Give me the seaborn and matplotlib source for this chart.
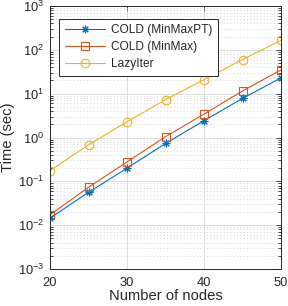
import numpy as np
import pandas as pd
import matplotlib
matplotlib.use("Agg")
import matplotlib.pyplot as plt
import seaborn as sns
from matplotlib.ticker import LogLocator, NullFormatter, FixedLocator

nodes = [20, 25, 30, 35, 40, 45, 50]
minmaxpt = [0.0145, 0.056, 0.20, 0.73, 2.41, 7.8, 22.9]
minmax = [0.0172, 0.073, 0.277, 1.04, 3.42, 11.5, 34.8]
lazyiter = [0.175, 0.68, 2.28, 7.3, 20.9, 60.0, 164.0]
series_names = ["COLD (MinMaxPT)", "COLD (MinMax)", "LazyIter"]
x_ticks = [20, 30, 40, 50]
x_label = "Number of nodes"
y_label = "Time (sec)"

colors = ["#0072BD", "#D95319", "#EDB120"]
markers = [(8, 2, 0), "s", "o"]
msizes = [5.5, 5.2, 6.2]

sns.set_style("white")
plt.rcParams["font.family"] = ["Liberation Sans", "DejaVu Sans"]
plt.rcParams["mathtext.default"] = "regular"

fig = plt.figure(figsize=(2.88, 3.06), dpi=100)
ax = fig.add_axes([50 / 288, (306 - 269) / 306, (281 - 50) / 288, (269 - 6) / 306])

for name, vals, c, m, ms in zip(series_names, [minmaxpt, minmax, lazyiter], colors, markers, msizes):
    df = pd.DataFrame({"x": nodes, "y": vals})
    sns.lineplot(data=df, x="x", y="y", ax=ax, color=c, marker=m, markersize=ms,
                 markerfacecolor="none", markeredgecolor=c, markeredgewidth=0.8,
                 linewidth=0.8, label=name)

ax.set_yscale("log")
ax.set_xlim(20, 50)
ax.set_ylim(1e-3, 1e3)
ax.xaxis.set_major_locator(FixedLocator(x_ticks))
ax.yaxis.set_major_locator(LogLocator(base=10, numticks=10))
ax.yaxis.set_minor_locator(LogLocator(base=10, subs=np.arange(2, 10), numticks=20))
ax.yaxis.set_minor_formatter(NullFormatter())

dark = "#262626"
ax.grid(True, which="major", color="#dcdcdc", linewidth=0.7, linestyle="-")
ax.grid(True, which="minor", axis="y", color="#c8c8c8", linewidth=0.6, linestyle=(0, (1, 3)))
ax.set_axisbelow(True)

for s in ax.spines.values():
    s.set_visible(True)
    s.set_color(dark)
    s.set_linewidth(0.7)

ax.tick_params(axis="both", which="both", direction="in", top=True, right=True,
               colors=dark, labelcolor=dark, width=0.6)
ax.tick_params(axis="both", which="major", length=3.5, labelsize=9.3)
ax.tick_params(axis="y", which="minor", length=2, left=True, right=True)
ax.tick_params(axis="x", which="major", pad=5.5)
ax.tick_params(axis="y", which="major", pad=4)

ax.set_xlabel(x_label, fontsize=10.6, color=dark, labelpad=0)
ax.set_ylabel(y_label, fontsize=10.6, color=dark, labelpad=2)

leg = ax.legend(loc="upper left", bbox_to_anchor=((59 - 50) / 231, 1 - (18.5 - 6) / 263),
                borderaxespad=0, fontsize=8.6, frameon=True, fancybox=False,
                framealpha=1, edgecolor=dark, handlelength=3.35, handletextpad=0.5,
                borderpad=0.5, labelspacing=0.4)
leg.get_frame().set_linewidth(0.7)

fig.savefig("out.png", dpi=100)
